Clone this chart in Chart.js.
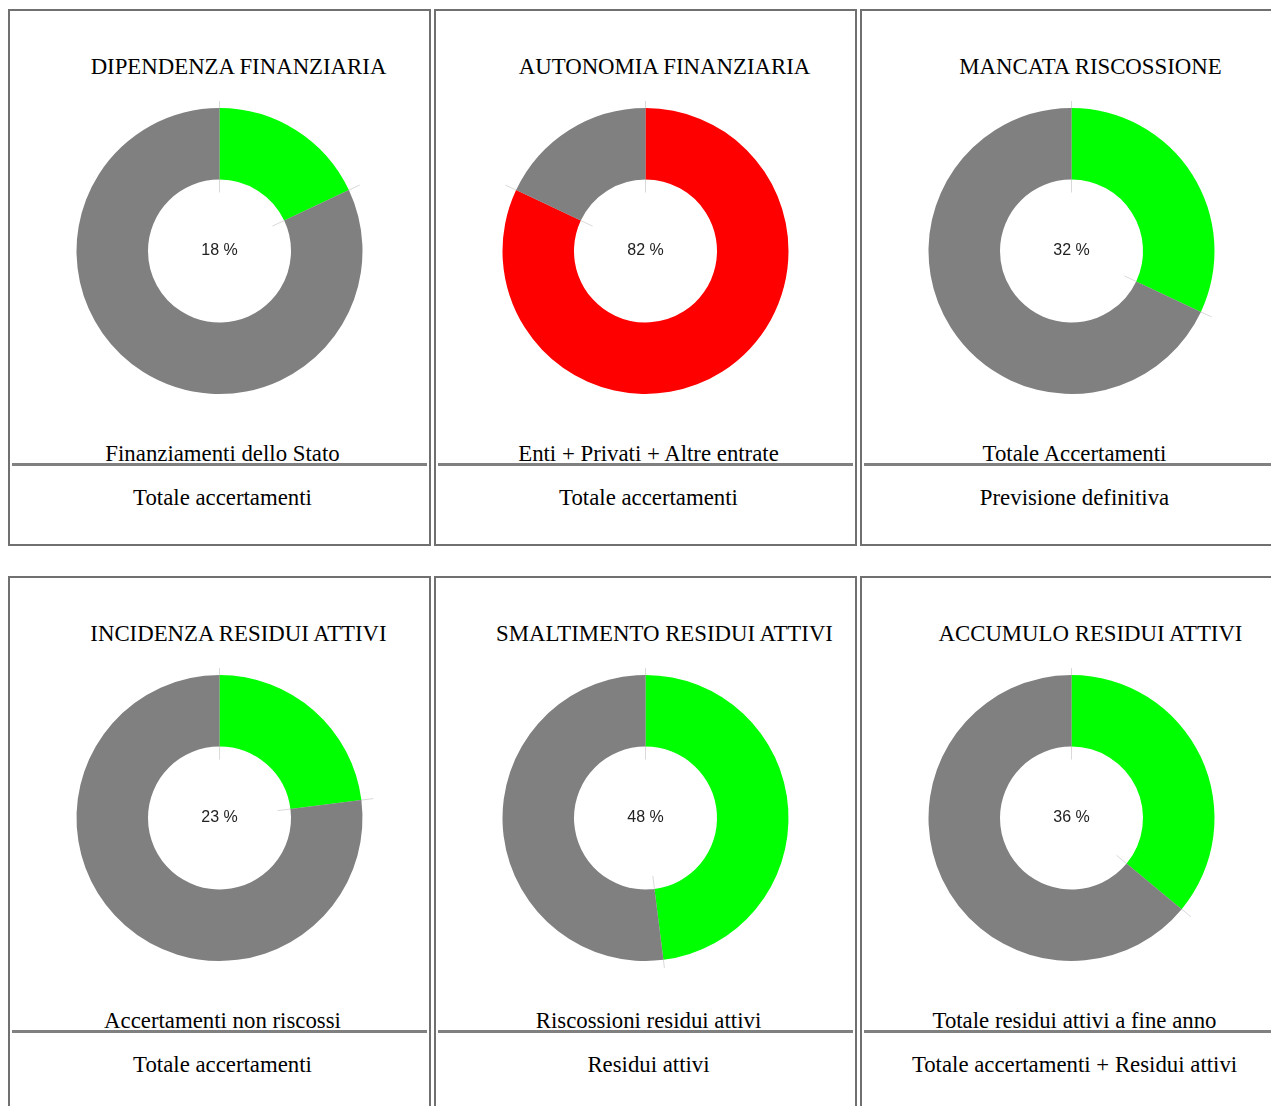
<!DOCTYPE html>
<html>
<head>
<meta charset="utf-8">
<script src="https://cdn.jsdelivr.net/npm/chart.js@4/dist/chart.umd.min.js"></script>
<style>
  html, body { margin: 0; padding: 0; background: #fff; overflow: hidden; }
  body { width: 1271px; height: 1106px; position: relative; font-family: "Liberation Serif", "Times New Roman", serif; }
  .panel { position: absolute; width: 423px; height: 537px; box-sizing: border-box; border: 2px solid #707070; }
  .title { position: absolute; left: 0; top: 45px; width: 419px; box-sizing: border-box; padding-left: 38px;
           text-align: center; font-size: 22.8px; line-height: 22px; white-space: nowrap; color: #000; }
  .chartbox { position: absolute; left: 0; top: 90px; width: 419px; height: 300px; }
  .num, .den { position: absolute; left: 0; width: 419px; box-sizing: border-box; padding-left: 6px;
               text-align: center; font-size: 22.8px; line-height: 22px; white-space: nowrap; color: #000; }
  .num { top: 432px; }
  .den { top: 476px; }
  .bar { position: absolute; left: 2px; top: 452px; width: 415px; height: 3px; background: #808080; }
</style>
</head>
<body>
<script>
const titles = ['DIPENDENZA FINANZIARIA', 'AUTONOMIA FINANZIARIA', 'MANCATA RISCOSSIONE',
                'INCIDENZA RESIDUI ATTIVI', 'SMALTIMENTO RESIDUI ATTIVI', 'ACCUMULO RESIDUI ATTIVI'];
const numerators = ['Finanziamenti dello Stato', 'Enti + Privati + Altre entrate', 'Totale Accertamenti',
                    'Accertamenti non riscossi', 'Riscossioni residui attivi', 'Totale residui attivi a fine anno'];
const denominators = ['Totale accertamenti', 'Totale accertamenti', 'Previsione definitiva',
                      'Totale accertamenti', 'Residui attivi', 'Totale accertamenti + Residui attivi'];
const percentages = [18, 82, 32, 23, 48, 36];
const highlightColors = ['#00ff00', '#ff0000', '#00ff00', '#00ff00', '#00ff00', '#00ff00'];

// faint guide lines at segment edges, drawn under the arcs
const edgeLines = {
    id: 'edgeLines',
    beforeDatasetsDraw(chart) {
        const ctx = chart.ctx;
        const meta = chart.getDatasetMeta(0);
        ctx.save();
        ctx.strokeStyle = 'rgba(185,185,185,0.55)';
        ctx.lineWidth = 1;
        meta.data.forEach(arc => {
            const p = arc.getProps(['x', 'y', 'startAngle', 'innerRadius', 'outerRadius'], true);
            const r0 = p.innerRadius - 13, r1 = p.outerRadius + 12;
            ctx.beginPath();
            ctx.moveTo(p.x + Math.cos(p.startAngle) * r0, p.y + Math.sin(p.startAngle) * r0);
            ctx.lineTo(p.x + Math.cos(p.startAngle) * r1, p.y + Math.sin(p.startAngle) * r1);
            ctx.stroke();
        });
        ctx.restore();
    }
};

// percentage label in the hole
const centerText = {
    id: 'centerText',
    afterDatasetsDraw(chart) {
        const ctx = chart.ctx;
        const arc = chart.getDatasetMeta(0).data[0];
        ctx.save();
        ctx.font = '16px "Liberation Sans", Arial, sans-serif';
        ctx.fillStyle = '#222';
        ctx.textAlign = 'center';
        ctx.textBaseline = 'middle';
        ctx.fillText(chart.data.datasets[0].data[0] + ' %', arc.x, arc.y);
        ctx.restore();
    }
};

const lefts = [8, 434, 860];
const tops = [9, 576];

titles.forEach((t, i) => {
    const panel = document.createElement('div');
    panel.className = 'panel';
    panel.style.left = lefts[i % 3] + 'px';
    panel.style.top = tops[Math.floor(i / 3)] + 'px';
    panel.innerHTML =
        '<div class="title"></div>' +
        '<div class="chartbox"><canvas></canvas></div>' +
        '<div class="num"></div><div class="bar"></div><div class="den"></div>';
    panel.querySelector('.title').textContent = t;
    panel.querySelector('.num').textContent = numerators[i];
    panel.querySelector('.den').textContent = denominators[i];
    document.body.appendChild(panel);

    new Chart(panel.querySelector('canvas'), {
        type: 'doughnut',
        data: {
            labels: ['valore', 'resto'],
            datasets: [{
                data: [percentages[i], 100 - percentages[i]],
                backgroundColor: [highlightColors[i], '#808080'],
                borderWidth: 0
            }]
        },
        options: {
            responsive: true,
            maintainAspectRatio: false,
            animation: false,
            cutout: '50%',
            layout: { padding: { top: 7, bottom: 7 } },
            plugins: { legend: { display: false }, tooltip: { enabled: false } }
        },
        plugins: [edgeLines, centerText]
    });
});
</script>
</body>
</html>
